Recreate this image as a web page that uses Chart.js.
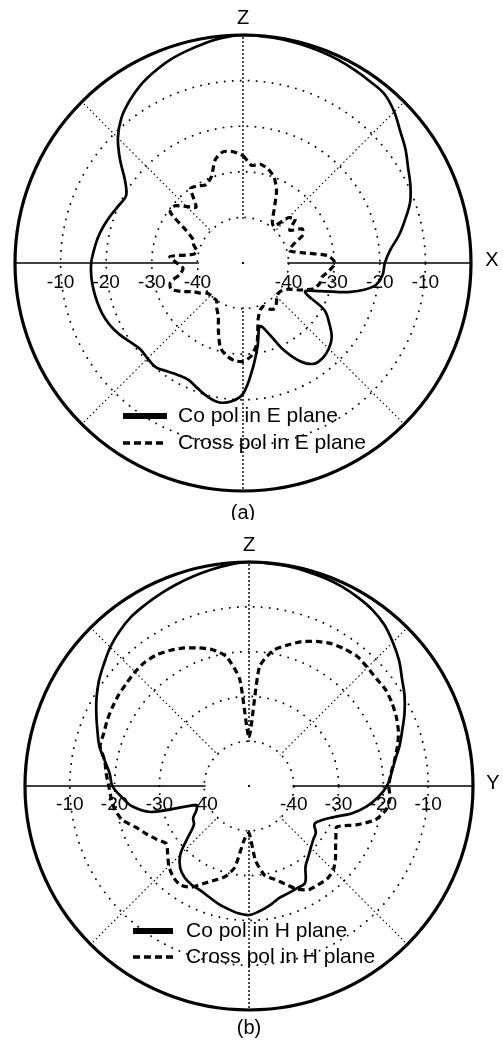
<!DOCTYPE html>
<html>
<head>
<meta charset="utf-8">
<title>Radiation patterns</title>
<script src="https://cdn.jsdelivr.net/npm/chart.js@4.4.1/dist/chart.umd.min.js"></script>
<style>
  html, body { margin: 0; padding: 0; background: #fff; }
  body { width: 503px; height: 1040px; position: relative; overflow: hidden; }
  canvas { position: absolute; left: 0; }
  #planeE { top: 0; }
  #planeH { top: 520px; }
</style>
</head>
<body>
<canvas id="planeE" width="503" height="520"></canvas>
<canvas id="planeH" width="503" height="520"></canvas>
<script>
// Observation angle (deg, clockwise from the Z axis)
const angles = [
  0, 5, 10, 15, 20, 25, 30, 35, 40, 45, 50, 55,
  60, 65, 70, 75, 80, 85, 90, 95, 100, 105, 110, 115,
  120, 125, 130, 135, 140, 145, 150, 155, 160, 165, 170, 175,
  180, 185, 190, 195, 200, 205, 210, 215, 220, 225, 230, 235,
  240, 245, 250, 255, 260, 265, 270, 275, 280, 285, 290, 295,
  300, 305, 310, 315, 320, 325, 330, 335, 340, 345, 350, 355
];

// Ring labels (dB) written along the horizontal axis
const ringTicks = [-40, -30, -20, -10];

// (a) E plane, normalised gain in dB
const eCoPol = [
  0, -0.1, -0.2, -0.4, -0.6, -0.8, -1.1, -1.4, -1.7, -3.1, -5.0, -6.5,
  -8.2, -9.5, -11.0, -13.2, -15.3, -17.6, -18.9, -19.3, -20.8, -25.5, -32.0, -35.0,
  -29.4, -26.9, -24.6, -23.4, -22.8, -23.0, -25.2, -29.0, -33.5, -35.6, -31.5, -26.5,
  -21.3, -19.5, -19.0, -19.7, -20.8, -21.7, -21.6, -21.0, -20.2, -20.4, -20.6, -19.8,
  -18.7, -17.8, -17.2, -16.9, -16.7, -16.6, -16.7, -17.2, -17.7, -18.4, -19.2, -20.0,
  -20.4, -18.4, -14.8, -11.2, -8.5, -6.6, -5.0, -3.8, -2.7, -1.9, -1.1, -0.4
];
const eCrossPol = [
  -26.5, -28.5, -28.0, -28.7, -30.0, -32.6, -36.3, -38.8, -39.5, -36.0, -35.0, -37.5,
  -35.0, -35.5, -38.3, -39.5, -37.0, -31.3, -29.8, -31.0, -32.4, -32.6, -33.5, -36.0,
  -38.5, -39.5, -39.8, -39.5, -38.6, -37.8, -38.3, -39.5, -39.0, -37.2, -32.2, -29.5,
  -28.4, -28.5, -29.3, -30.8, -34.2, -37.2, -38.5, -39.9, -40.0, -40.0, -39.7, -38.5,
  -37.4, -35.2, -33.2, -33.5, -36.0, -36.8, -35.5, -33.9, -39.0, -39.5, -38.5, -38.0,
  -35.5, -30.5, -30.5, -32.5, -34.0, -30.0, -30.5, -31.0, -29.8, -26.5, -25.2, -25.5
];

// (b) H plane, normalised gain in dB
const hCoPol = [
  0, -0.1, -0.2, -0.4, -0.6, -0.9, -1.4, -2.0, -3.0, -4.6, -6.3, -8.3,
  -9.9, -11.7, -13.6, -15.2, -16.9, -18.1, -19.2, -21.1, -23.4, -26.3, -29.8, -32.0,
  -33.1, -31.8, -31.3, -30.5, -29.4, -28.0, -25.0, -24.8, -24.5, -24.1, -23.0, -22.0,
  -21.2, -21.5, -22.2, -22.9, -23.7, -24.3, -24.5, -25.0, -26.1, -28.3, -32.2, -35.0,
  -35.6, -37.0, -37.5, -27.6, -23.6, -21.5, -19.5, -18.8, -17.3, -15.4, -14.0, -12.4,
  -10.7, -9.1, -7.7, -6.2, -5.0, -4.0, -3.4, -2.8, -2.2, -1.6, -1.0, -0.4
];
const hCrossPol = [
  -39.0, -23.3, -19.3, -17.5, -15.7, -14.4, -13.3, -12.7, -12.3, -12.6, -12.8, -12.7,
  -13.1, -13.7, -14.5, -15.7, -17.0, -18.2, -18.8, -18.4, -19.0, -20.8, -24.6, -28.4,
  -27.6, -26.4, -24.8, -23.4, -22.9, -23.1, -23.3, -24.6, -26.8, -28.5, -29.7, -33.3,
  -39.5, -38.0, -31.5, -29.0, -27.6, -26.0, -23.9, -23.1, -23.6, -24.7, -26.3, -27.5,
  -26.2, -24.7, -23.1, -20.7, -19.6, -19.1, -18.7, -18.0, -17.3, -15.6, -15.5, -15.1,
  -14.8, -14.5, -14.3, -14.0, -13.9, -14.2, -15.0, -16.0, -17.2, -18.5, -20.6, -26.0
];

const FONT = '"Liberation Sans", Arial, Helvetica, sans-serif';

// Draws the blank core, ring labels, axis letters, legend and caption
const polarDecor = {
  id: 'polarDecor',
  beforeDatasetsDraw(chart, args, opts) {
    const s = chart.scales.r;
    const ctx = chart.ctx;
    const r40 = s.getDistanceFromCenterForValue(-40);
    ctx.save();
    ctx.fillStyle = '#fff';
    ctx.beginPath();
    ctx.arc(s.xCenter, s.yCenter, r40 - 1.3, 0, Math.PI * 2);
    ctx.fill();
    ctx.fillStyle = '#000';
    ctx.fillRect(s.xCenter - 1, s.yCenter - 1, 2, 2);

    ctx.font = '19px ' + FONT;
    ctx.textAlign = 'center';
    ctx.textBaseline = 'middle';
    ringTicks.forEach(v => {
      const d = s.getDistanceFromCenterForValue(v);
      ctx.fillText(String(v), s.xCenter - d, s.yCenter + opts.tickDy);
      ctx.fillText(String(v), s.xCenter + d, s.yCenter + opts.tickDy);
    });
    ctx.restore();
  },
  afterDraw(chart, args, opts) {
    const s = chart.scales.r;
    const ctx = chart.ctx;
    const R = s.drawingArea;
    ctx.save();
    ctx.fillStyle = '#000';
    ctx.textAlign = 'center';
    ctx.textBaseline = 'middle';
    ctx.font = '20px ' + FONT;
    ctx.fillText('Z', s.xCenter, s.yCenter - R - opts.zGap);
    ctx.fillText(opts.hAxis, s.xCenter + R + opts.hGap, s.yCenter - 3);
    ctx.fillText(opts.caption, s.xCenter, s.yCenter + R + opts.capGap);

    const L = opts.legend;
    chart.data.datasets.forEach((ds, i) => {
      const y = L.y[i];
      ctx.strokeStyle = '#000';
      ctx.lineWidth = i === 0 ? 6 : 3.4;
      ctx.setLineDash(i === 0 ? [] : [7, 4]);
      ctx.beginPath();
      ctx.moveTo(L.x1, y);
      ctx.lineTo(L.x2, y);
      ctx.stroke();
      ctx.setLineDash([]);
      ctx.font = '21px ' + FONT;
      ctx.textAlign = 'left';
      ctx.fillText(ds.label, L.tx, y);
    });
    ctx.restore();
  }
};

function angleLineWidth(c) {
  if (c.index % 9 !== 0) return 0;
  if (c.index === 18 || c.index === 54) return 1.6;
  if (c.index === 0 || c.index === 36) return 1.4;
  return 1.1;
}
function angleLineDash(c) {
  if (c.index === 18 || c.index === 54) return [];
  if (c.index === 0 || c.index === 36) return [2, 2];
  return [1.5, 2.8];
}

function patternChart(id, co, cross, names, decor, pad) {
  return new Chart(document.getElementById(id), {
    type: 'radar',
    data: {
      labels: angles,
      datasets: [
        { label: names[0], data: co, borderColor: '#000', borderWidth: 2.7,
          pointRadius: 0, fill: false, tension: 0.35 },
        { label: names[1], data: cross, borderColor: '#000', borderWidth: 3.2,
          borderDash: [6.5, 4], pointRadius: 0, fill: false, tension: 0.2 }
      ]
    },
    options: {
      responsive: false,
      animation: false,
      devicePixelRatio: 1,
      layout: { padding: pad },
      elements: { line: { borderJoinStyle: 'round' } },
      plugins: {
        legend: { display: false },
        tooltip: { enabled: false },
        polarDecor: decor
      },
      scales: {
        r: {
          min: -50,
          max: 0,
          startAngle: 0,
          ticks: { display: false, stepSize: 10 },
          pointLabels: { display: false },
          grid: {
            circular: true,
            color: c => (c.tick && c.tick.value === -50) ? 'rgba(0,0,0,0)' : '#000',
            lineWidth: c => (c.tick && c.tick.value === 0) ? 3.2 : 1.7
          },
          border: {
            dash: c => (c.tick && c.tick.value === 0) ? [] : [1.7, 6.3]
          },
          angleLines: {
            color: '#000',
            lineWidth: angleLineWidth,
            borderDash: angleLineDash
          }
        }
      }
    },
    plugins: [polarDecor]
  });
}

patternChart('planeE', eCoPol, eCrossPol,
  ['Co pol in E plane', 'Cross pol in E plane'],
  { hAxis: 'X', caption: '(a)', tickDy: 20, zGap: 17, hGap: 21, capGap: 22,
    legend: { x1: 123, x2: 167, tx: 178, y: [416, 443] } },
  { left: 15, right: 32, top: 35, bottom: 29 });

patternChart('planeH', hCoPol, hCrossPol,
  ['Co pol in H plane', 'Cross pol in H plane'],
  { hAxis: 'Y', caption: '(b)', tickDy: 19, zGap: 17, hGap: 20, capGap: 18,
    legend: { x1: 133, x2: 173, tx: 186, y: [411, 437] } },
  { left: 25, right: 30, top: 42, bottom: 30 });
</script>
</body>
</html>
